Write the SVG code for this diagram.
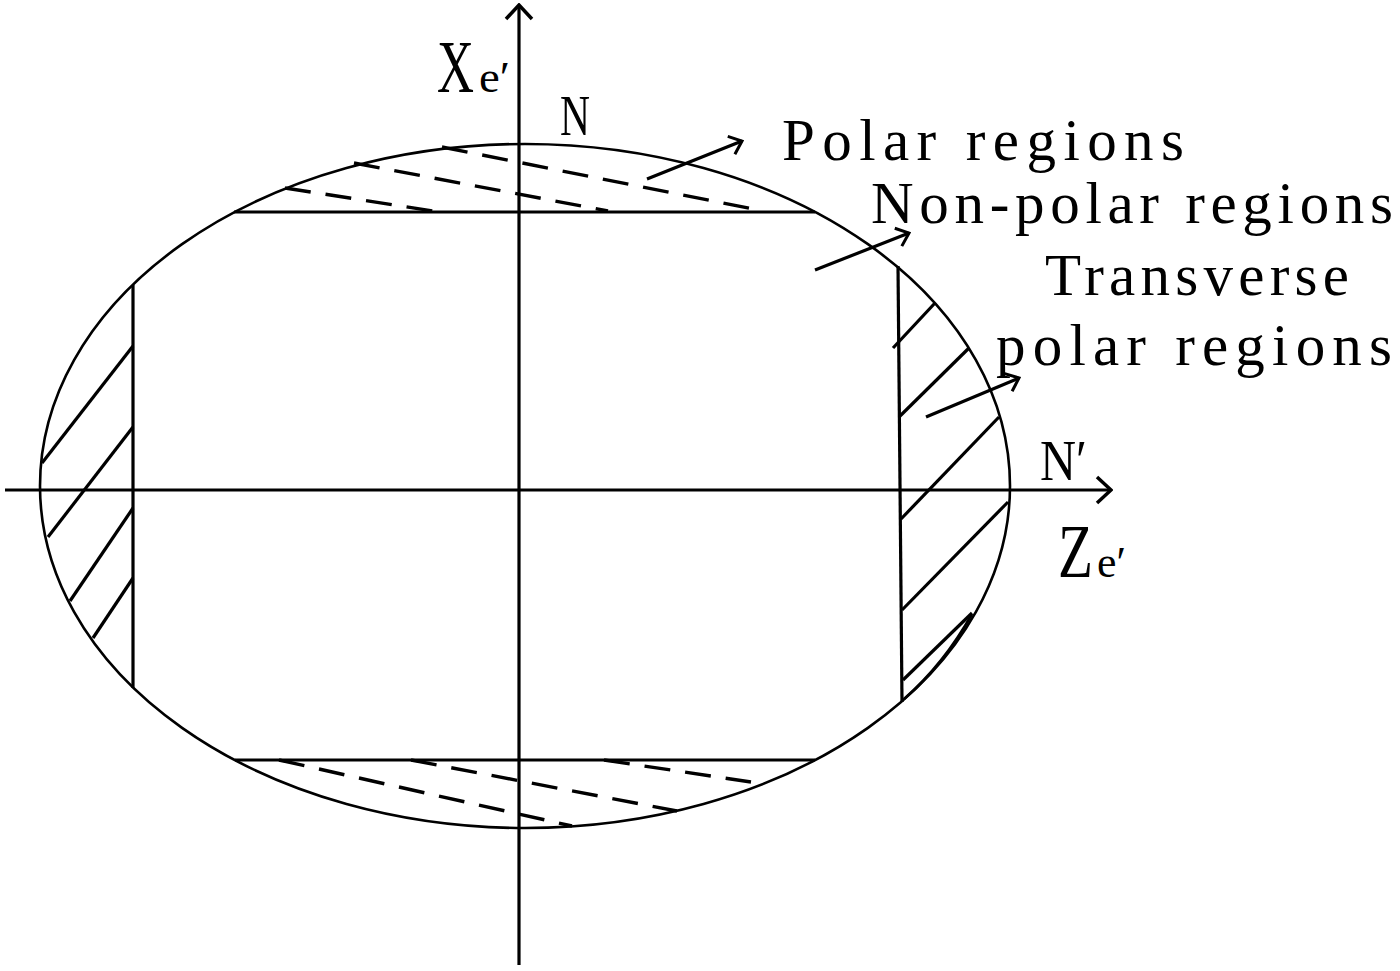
<svg xmlns="http://www.w3.org/2000/svg" width="1400" height="971" viewBox="0 0 1400 971">
<style>
.ln{stroke:#000;fill:none;stroke-width:3.2}
.thin{stroke:#000;fill:none;stroke-width:2.6}
.dash{stroke:#000;fill:none;stroke-width:3.4;stroke-dasharray:26 15}
.lbl{font-family:"Liberation Serif","DejaVu Serif",serif;font-size:59px;fill:#000}
.ax{font-family:"Liberation Serif","DejaVu Serif",serif;fill:#000}
</style>
<defs>
<marker id="ah" viewBox="-14 -12 16 24" refX="0" refY="0" markerWidth="16" markerHeight="24" markerUnits="userSpaceOnUse" orient="auto">
<path d="M-11.5,-9.6 L0,0 L-11.5,9.6" fill="none" stroke="#000" stroke-width="3"/>
</marker>
<marker id="axh" viewBox="-16 -15 18 30" refX="0" refY="0" markerWidth="18" markerHeight="30" markerUnits="userSpaceOnUse" orient="auto">
<path d="M-14,-13 L0,0 L-14,13" fill="none" stroke="#000" stroke-width="3.5"/>
</marker>
</defs>
<rect width="1400" height="971" fill="#fff"/>
<g id="boundary">
<ellipse class="thin" cx="525" cy="486" rx="485" ry="342"/>
<line class="ln" x1="234" y1="212" x2="815" y2="212"/>
<line class="ln" x1="235" y1="760" x2="815" y2="760"/>
<line class="ln" x1="133" y1="285" x2="133" y2="688"/>
<line class="ln" x1="898" y1="266" x2="902" y2="702"/>
</g>
<g id="polar-top">
<line class="dash" x1="285" y1="188" x2="433" y2="211"/>
<line class="dash" x1="354" y1="163" x2="608" y2="211"/>
<line class="dash" x1="442" y1="147" x2="753" y2="209"/>
</g>
<g id="polar-bottom">
<line class="dash" x1="279" y1="760" x2="572" y2="826"/>
<line class="dash" x1="411" y1="760" x2="677" y2="811"/>
<line class="dash" x1="604" y1="760" x2="751" y2="782"/>
</g>
<g id="transverse-left">
<line class="ln" x1="133" y1="346" x2="42" y2="463"/>
<line class="ln" x1="133" y1="427" x2="48" y2="537"/>
<line class="ln" x1="133" y1="508" x2="70" y2="601"/>
<line class="ln" x1="133" y1="578" x2="93" y2="638"/>
</g>
<g id="transverse-right">
<line class="ln" x1="893" y1="348" x2="935" y2="303"/>
<line class="ln" x1="899" y1="417" x2="969" y2="348"/>
<line class="ln" x1="901" y1="519" x2="999" y2="417"/>
<line class="ln" x1="902" y1="610" x2="1008" y2="502"/>
<line class="ln" x1="903" y1="680" x2="972" y2="613"/>
<path class="thin" d="M972,614 Q944,664 904,699"/>
</g>
<g id="axes">
<line class="ln" x1="519" y1="965" x2="519" y2="5" marker-end="url(#axh)"/>
<line class="ln" x1="5" y1="490" x2="1111" y2="490" marker-end="url(#axh)"/>
<text class="ax" x="437" y="92"><tspan font-size="75" textLength="37" lengthAdjust="spacingAndGlyphs">X</tspan><tspan x="479" font-size="44" textLength="31" lengthAdjust="spacingAndGlyphs">e′</tspan></text>
<text class="ax" x="1058" y="577"><tspan font-size="76" textLength="35" lengthAdjust="spacingAndGlyphs">Z</tspan><tspan x="1097" font-size="44" textLength="29" lengthAdjust="spacingAndGlyphs">e′</tspan></text>
<text class="ax" x="560" y="135" font-size="57" textLength="30" lengthAdjust="spacingAndGlyphs">N</text>
<text class="ax" x="1040" y="480" font-size="57" textLength="47" lengthAdjust="spacingAndGlyphs">N′</text>
</g>
<g id="connectors">
<line class="ln" x1="647" y1="179" x2="742" y2="141" marker-end="url(#ah)"/>
<line class="ln" x1="815" y1="270" x2="909" y2="233" marker-end="url(#ah)"/>
<line class="ln" x1="926" y1="417" x2="1019" y2="378" marker-end="url(#ah)"/>
</g>
<g id="label-polar"><text class="lbl" x="782" y="160" textLength="402">Polar regions</text></g>
<g id="label-nonpolar"><text class="lbl" x="871" y="223" textLength="522">Non-polar regions</text></g>
<g id="label-transverse"><text class="lbl" x="1045" y="295" textLength="304">Transverse</text>
<text class="lbl" x="996" y="365" textLength="396">polar regions</text></g>
</svg>
